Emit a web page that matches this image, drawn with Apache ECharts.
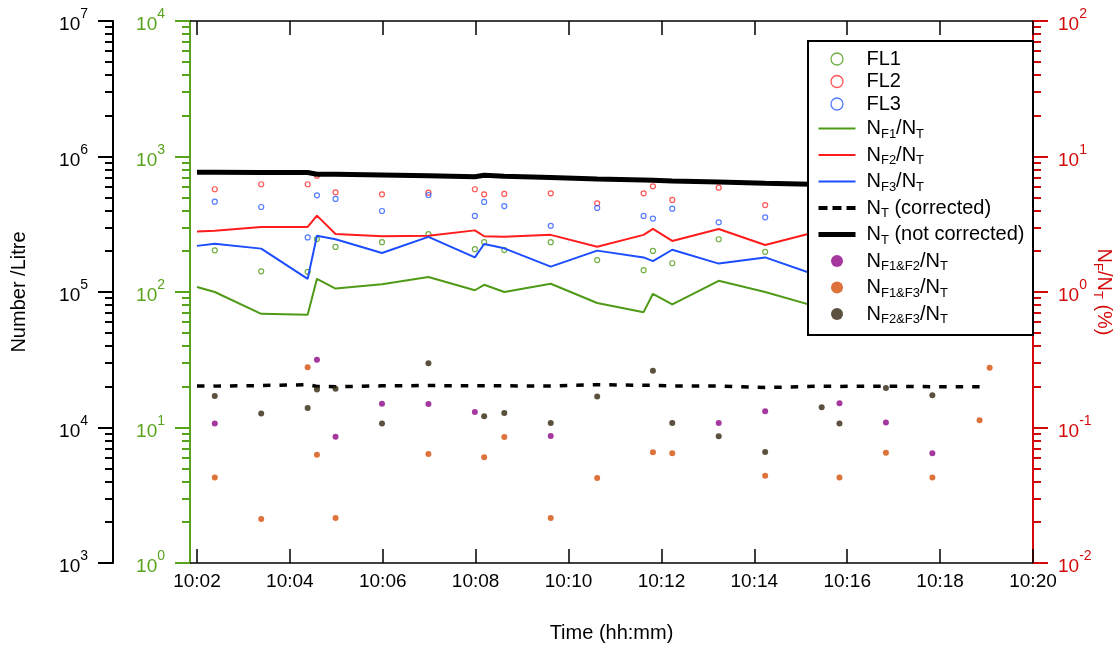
<!DOCTYPE html>
<html>
<head>
<meta charset="utf-8">
<script src="https://cdn.jsdelivr.net/npm/echarts@6/dist/echarts.min.js"></script>
<style>
  html, body { margin: 0; padding: 0; background: #fff; }
  #chart { width: 1115px; height: 645px; }
</style>
</head>
<body>
<div id="chart"></div>
<script>
// ---- sample times (hh:mm:ss) and measured values ----
// fluorescence-ratio lines and the uncorrected total share these times
const ratioTimes = ['10:02:00','10:02:23','10:03:23','10:04:23','10:04:35','10:04:59','10:05:59','10:06:59',
  '10:07:59','10:08:11','10:08:37','10:09:37','10:10:37','10:11:37','10:11:49','10:12:14','10:13:14','10:14:14','10:15:27'];
const ratioF1 = [1.09, 1.00, 0.69, 0.68, 1.25, 1.06, 1.14, 1.29, 1.03, 1.13, 1.00, 1.15, 0.83, 0.71, 0.97, 0.81, 1.21, 1.00, 0.76];
const ratioF2 = [2.79, 2.83, 3.02, 3.02, 3.66, 2.68, 2.58, 2.60, 2.85, 2.58, 2.56, 2.64, 2.16, 2.64, 2.92, 2.38, 2.92, 2.22, 2.84];
const ratioF3 = [2.19, 2.27, 2.09, 1.25, 2.60, 2.45, 1.94, 2.55, 1.80, 2.26, 2.10, 1.54, 2.02, 1.80, 1.69, 2.05, 1.62, 1.80, 1.29];
const totalRaw = [7.64e5, 7.64e5, 7.63e5, 7.62e5, 7.39e5, 7.39e5, 7.30e5, 7.20e5, 7.10e5, 7.27e5, 7.15e5, 7.00e5,
  6.82e5, 6.71e5, 6.68e5, 6.60e5, 6.49e5, 6.36e5, 6.21e5];

// corrected total concentration
const correctedTimes = ['10:02:00','10:02:23','10:03:23','10:04:23','10:04:35','10:04:59','10:05:59','10:06:59',
  '10:07:59','10:08:11','10:08:37','10:09:37','10:10:37','10:11:37','10:11:49','10:12:14','10:13:14','10:14:14',
  '10:15:27','10:15:50','10:16:50','10:17:50','10:18:51'];
const totalCorrected = [2.02e4, 2.02e4, 2.04e4, 2.07e4, 2.01e4, 2.00e4, 2.03e4, 2.04e4, 2.03e4, 2.03e4, 2.03e4, 2.02e4,
  2.07e4, 2.05e4, 2.05e4, 2.02e4, 2.02e4, 1.97e4, 2.02e4, 2.01e4, 2.02e4, 2.00e4, 2.00e4];

// fluorescent particle counts per channel
const flTimes = ['10:02:23','10:03:23','10:04:23','10:04:35','10:04:59','10:05:59','10:06:59','10:07:59','10:08:11',
  '10:08:37','10:09:37','10:10:37','10:11:37','10:11:49','10:12:14','10:13:14','10:14:14'];
const fl1 = [203, 142, 141, 246, 215, 233, 267, 207, 233, 204, 233, 172, 145, 201, 163, 245, 198];
const fl2 = [573, 624, 624, 722, 544, 526, 541, 573, 526, 529, 535, 451, 535, 602, 478, 589, 438];
const fl3 = [464, 424, 253, 517, 486, 396, 520, 364, 462, 431, 308, 417, 364, 348, 412, 327, 356];

// particles fluorescent in two channels, as % of total  [time, %]
const both12 = [['10:02:23',0.107],['10:04:35',0.316],['10:04:59',0.0855],['10:05:59',0.150],['10:06:59',0.149],
  ['10:07:59',0.130],['10:09:37',0.0866],['10:13:14',0.108],['10:14:14',0.132],['10:15:50',0.151],['10:16:50',0.109],
  ['10:17:50',0.0645]];
const both13 = [['10:02:23',0.0427],['10:03:23',0.0211],['10:04:23',0.278],['10:04:35',0.0630],['10:04:59',0.0215],
  ['10:06:59',0.0637],['10:08:11',0.0602],['10:08:37',0.0851],['10:09:37',0.0215],['10:10:37',0.0424],
  ['10:11:49',0.0656],['10:12:14',0.0645],['10:14:14',0.0441],['10:15:50',0.0428],['10:16:50',0.0652],
  ['10:17:50',0.0428],['10:18:51',0.113],['10:19:04',0.276]];
const both23 = [['10:02:23',0.171],['10:03:23',0.127],['10:04:23',0.139],['10:04:35',0.191],['10:04:59',0.193],
  ['10:05:59',0.107],['10:06:59',0.298],['10:08:11',0.121],['10:08:37',0.128],['10:09:37',0.108],['10:10:37',0.169],
  ['10:11:49',0.262],['10:12:14',0.108],['10:13:14',0.0861],['10:14:14',0.0659],['10:15:27',0.141],['10:15:50',0.107],
  ['10:16:50',0.196],['10:17:50',0.173]];

// axis tick labels
const timeTickLabels = ['10:02','10:04','10:06','10:08','10:10','10:12','10:14','10:16','10:18','10:20'];
const countDecades = [3, 4, 5, 6, 7];
const fluorDecades = [0, 1, 2, 3, 4];
const ratioDecades = [-2, -1, 0, 1, 2];

// ---- helpers ----
const FONT = '"Liberation Sans", Arial, sans-serif';
const BLACK = '#000000';
const AXIS_GREEN = '#58a21c';
const AXIS_RED = '#d40a0a';
const C_F1 = '#4f9a17', C_F2 = '#ff1c1c', C_F3 = '#1c4dff';
const C_12 = '#8e0686', C_13 = '#d4500a', C_23 = '#33240e';

function toMin(t) {
  const p = t.split(':').map(Number);
  return (p[0] - 10) * 60 + p[1] + (p[2] || 0) / 60;
}
function pairs(times, vals) { return times.map((t, i) => [toMin(t), vals[i]]); }
function pairList(list) { return list.map(d => [toMin(d[0]), d[1]]); }
function powers(exps) { return exps.map(e => Math.pow(10, e)); }
function minorValues(exps) {
  const out = [];
  for (let i = 0; i < exps.length - 1; i++) {
    for (let k = 2; k <= 9; k++) out.push(k * Math.pow(10, exps[i]));
  }
  return out;
}
function powLabel(v) { return '{b|10}{p|' + Math.round(Math.log10(v)) + '}'; }
function powRich(color) {
  return {
    b: { fontSize: 19, fontFamily: FONT, color: color, padding: [8, 0, 0, 0] },
    p: { fontSize: 14, fontFamily: FONT, color: color, padding: [0, 0, 13, 0] }
  };
}
const xTickValues = timeTickLabels.map(s => toMin(s));

function logAxis(opt) {
  const majors = powers(opt.decades);
  const base = {
    type: 'log', logBase: 10,
    min: majors[0], max: majors[majors.length - 1],
    position: opt.position, offset: opt.offset,
    splitLine: { show: false }, minorSplitLine: { show: false }
  };
  const major = Object.assign({}, base, {
    axisLine: { show: true, onZero: false, lineStyle: { color: opt.color, width: 2 } },
    axisTick: { show: true, inside: false, length: 15, customValues: majors,
      lineStyle: { color: opt.color, width: 2 } },
    axisLabel: { show: true, margin: 25, customValues: majors, formatter: powLabel, rich: powRich(opt.textColor) }
  }, opt.extra || {});
  const minor = Object.assign({}, base, {
    axisLine: { show: false },
    axisTick: { show: true, inside: false, length: 8, customValues: minorValues(opt.decades),
      lineStyle: { color: opt.color, width: 2 } },
    axisLabel: { show: false }
  });
  return [major, minor];
}

const subRich = (color) => ({
  t: { fontSize: 20, fontFamily: FONT, color: color },
  s: { fontSize: 13, fontFamily: FONT, color: color, padding: [11, 0, 0, 0], lineHeight: 24.5 }
});

const legendText = {
  'FL1': '{t|FL1}',
  'FL2': '{t|FL2}',
  'FL3': '{t|FL3}',
  'F1 ratio': '{t|N}{s|F1}{t|/N}{s|T}',
  'F2 ratio': '{t|N}{s|F2}{t|/N}{s|T}',
  'F3 ratio': '{t|N}{s|F3}{t|/N}{s|T}',
  'Total corrected': '{t|N}{s|T}{t| (corrected)}',
  'Total raw': '{t|N}{s|T}{t| (not corrected)}',
  'F1F2 ratio': '{t|N}{s|F1&F2}{t|/N}{s|T}',
  'F1F3 ratio': '{t|N}{s|F1&F3}{t|/N}{s|T}',
  'F2F3 ratio': '{t|N}{s|F2&F3}{t|/N}{s|T}'
};

const [countAxis, countMinor] = logAxis({
  decades: countDecades, position: 'left', offset: 77, color: BLACK, textColor: BLACK,
  extra: {
    name: 'Number /Litre', nameLocation: 'middle', nameGap: 84, nameRotate: 90, nameMoveOverlap: false,
    nameTextStyle: { fontSize: 20, fontFamily: FONT, color: BLACK }
  }
});
const [fluorAxis, fluorMinor] = logAxis({
  decades: fluorDecades, position: 'left', offset: 0, color: AXIS_GREEN, textColor: AXIS_GREEN
});
const [ratioAxis, ratioMinor] = logAxis({
  decades: ratioDecades, position: 'right', offset: 0, color: AXIS_RED, textColor: AXIS_RED,
  extra: {
    name: '{t|N}{s|F}{t|/N}{s|T}{t| (%)}', nameLocation: 'middle', nameGap: 58, nameRotate: -90,
    nameMoveOverlap: false,
    nameTextStyle: { rich: subRich(AXIS_RED) }
  }
});

const lineBase = { type: 'line', symbol: 'none', showSymbol: false, silent: true, z: 3 };
const ringBase = { type: 'scatter', symbol: 'circle', symbolSize: 5, silent: true, yAxisIndex: 2, z: 2 };
const dotBase = { type: 'scatter', symbol: 'circle', symbolSize: 6, silent: true, yAxisIndex: 4, z: 4 };

const option = {
  animation: false,
  backgroundColor: '#ffffff',
  grid: { left: 190, right: 82, top: 21, bottom: 82, containLabel: false, outerBoundsMode: 'none' },
  xAxis: [
    {
      type: 'value', min: 1.85, max: 20, position: 'bottom',
      axisLine: { show: true, onZero: false, lineStyle: { color: BLACK, width: 1.5 } },
      axisTick: { show: true, inside: true, length: 14, customValues: xTickValues, lineStyle: { color: BLACK, width: 1.5 } },
      axisLabel: {
        show: true, margin: 9, customValues: xTickValues, fontSize: 19, fontFamily: FONT, color: BLACK,
        formatter: v => timeTickLabels[xTickValues.findIndex(x => Math.abs(x - v) < 1e-6)] || ''
      },
      splitLine: { show: false },
      name: 'Time (hh:mm)', nameLocation: 'middle', nameGap: 60, nameMoveOverlap: false,
      nameTextStyle: { fontSize: 20, fontFamily: FONT, color: BLACK }
    },
    {
      type: 'value', min: 1.85, max: 20, position: 'top',
      axisLine: { show: true, onZero: false, lineStyle: { color: BLACK, width: 1.5 } },
      axisTick: { show: true, inside: true, length: 14, customValues: xTickValues, lineStyle: { color: BLACK, width: 1.5 } },
      axisLabel: { show: false },
      splitLine: { show: false }
    }
  ],
  yAxis: [countAxis, countMinor, fluorAxis, fluorMinor, ratioAxis, ratioMinor],
  graphic: [{
    type: 'rect', z: 8, silent: true,
    shape: { x: 808, y: 41, width: 225, height: 294 },
    style: { fill: '#ffffff', stroke: BLACK, lineWidth: 2 }
  }],
  legend: {
    orient: 'vertical', left: 816, top: 49, padding: 0, z: 10,
    itemWidth: 37, itemHeight: 12, itemGap: 2.5, selectedMode: false,
    backgroundColor: 'transparent',
    textStyle: { fontSize: 20, fontFamily: FONT, color: BLACK, padding: [0, 0, 0, 6], rich: subRich(BLACK) },
    formatter: name => legendText[name],
    data: [
      { name: 'FL1', itemStyle: { borderWidth: 1.3 } },
      { name: 'FL2', itemStyle: { borderWidth: 1.3 } },
      { name: 'FL3', itemStyle: { borderWidth: 1.3 } },
      { name: 'F1 ratio', itemStyle: { opacity: 0 }, lineStyle: { width: 2 } },
      { name: 'F2 ratio', itemStyle: { opacity: 0 }, lineStyle: { width: 2 } },
      { name: 'F3 ratio', itemStyle: { opacity: 0 }, lineStyle: { width: 2 } },
      { name: 'Total corrected', itemStyle: { opacity: 0 }, lineStyle: { width: 4, type: [9, 5] } },
      { name: 'Total raw', itemStyle: { opacity: 0 }, lineStyle: { width: 5 } },
      { name: 'F1F2 ratio' },
      { name: 'F1F3 ratio' },
      { name: 'F2F3 ratio' }
    ]
  },
  series: [
    Object.assign({}, ringBase, { name: 'FL1', data: pairs(flTimes, fl1),
      itemStyle: { color: 'rgba(255,255,255,0)', borderColor: C_F1, borderWidth: 1.2 } }),
    Object.assign({}, ringBase, { name: 'FL2', data: pairs(flTimes, fl2),
      itemStyle: { color: 'rgba(255,255,255,0)', borderColor: '#ff2a2a', borderWidth: 1.2 } }),
    Object.assign({}, ringBase, { name: 'FL3', data: pairs(flTimes, fl3),
      itemStyle: { color: 'rgba(255,255,255,0)', borderColor: '#2a5aff', borderWidth: 1.2 } }),
    Object.assign({}, lineBase, { name: 'F1 ratio', yAxisIndex: 4, data: pairs(ratioTimes, ratioF1),
      itemStyle: { color: C_F1 }, lineStyle: { color: C_F1, width: 2 } }),
    Object.assign({}, lineBase, { name: 'F2 ratio', yAxisIndex: 4, data: pairs(ratioTimes, ratioF2),
      itemStyle: { color: C_F2 }, lineStyle: { color: C_F2, width: 2 } }),
    Object.assign({}, lineBase, { name: 'F3 ratio', yAxisIndex: 4, data: pairs(ratioTimes, ratioF3),
      itemStyle: { color: C_F3 }, lineStyle: { color: C_F3, width: 2 } }),
    Object.assign({}, lineBase, { name: 'Total corrected', yAxisIndex: 0, data: pairs(correctedTimes, totalCorrected),
      itemStyle: { color: BLACK }, lineStyle: { color: BLACK, width: 3.5, type: [7.5, 9] } }),
    Object.assign({}, lineBase, { name: 'Total raw', yAxisIndex: 0, data: pairs(ratioTimes, totalRaw),
      itemStyle: { color: BLACK }, lineStyle: { color: BLACK, width: 5 } }),
    Object.assign({}, dotBase, { name: 'F1F2 ratio', data: pairList(both12), itemStyle: { color: C_12 } }),
    Object.assign({}, dotBase, { name: 'F1F3 ratio', data: pairList(both13), itemStyle: { color: C_13 } }),
    Object.assign({}, dotBase, { name: 'F2F3 ratio', data: pairList(both23), itemStyle: { color: C_23 } })
  ]
};

const chart = echarts.init(document.getElementById('chart'), null, { renderer: 'canvas' });
chart.setOption(option);
</script>
</body>
</html>
